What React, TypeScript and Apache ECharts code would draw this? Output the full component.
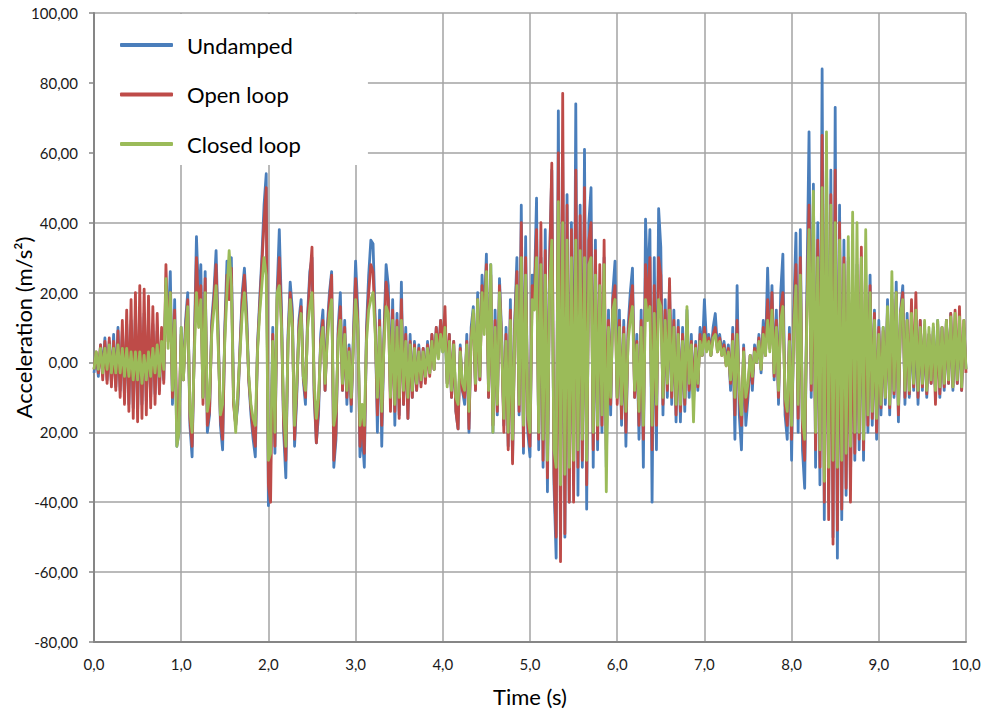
import React, { useEffect, useRef } from "react";
import * as echarts from "echarts";

// sampling step of the recorded signals (s)
const STEP = 0.025;

const xTicks = [0, 1, 2, 3, 4, 5, 6, 7, 8, 9, 10];
const yTicks = [-80, -60, -40, -20, 0, 20, 40, 60, 80, 100];

const seriesNames = ["Undamped", "Open loop", "Closed loop"];
const seriesColors = ["#4A7EBB", "#BE4B48", "#9BBB59"];

// acceleration (m/s²), one row = 0.25 s
const undamped = [
  -3, 2, -4, 5, -2, 7, -5, 6, -6, 8,
  -7, 10, -8, 9, -10, 11, -12, 12, -13, 14,
  -14, 13, -12, 14, -11, 12, -10, 11, -9, 9,
  -8, 8, -5, 22, 10, 26, -12, 18, -24, -20,
  10, -5, 12, 20, -18, -27, 5, 36, 18, 28,
  -10, 26, -20, -15, 12, 20, 32, 8, -18, -25,
  10, 29, 20, 30, -10, -18, -12, 5, 20, 27,
  15, -5, -15, -22, -27, 5, 18, 30, 45, 54,
  -41, -30, 10, -26, 20, 38, 15, -20, -33, 8,
  23, 15, -24, -10, 12, 18, -5, -12, 14, 26,
  30, -10, -23, -15, 8, 15, -8, 10, 20, 26,
  -30, -22, 10, 20, -8, 12, -12, 5, -14, 8,
  29, 15, -27, -20, -30, 10, 25, 35, 34, 12,
  -20, 15, -24, 8, 28, 22, -10, 18, -18, 14,
  -15, 23, -12, 10, -16, 8, -10, 6, -8, 5,
  -6, 4, -5, 6, -3, 8, -2, 10, 2, 12,
  3, 10, -6, 8, -10, 6, -14, -19, 5, -8,
  -12, 8, -20, 10, 16, -8, 20, -5, 25, 12,
  31, -10, 28, -20, 15, -15, 24, 8, -18, 10,
  -24, 18, -28, 12, 30, -15, 45, -26, 36, -20,
  -27, 25, 20, 47, -25, 30, -30, 38, -37, 30,
  55, -35, -56, 72, -45, 60, -50, 48, -40, 40,
  -35, 74, -38, 45, -30, 61, -42, 40, 50, -30,
  35, -25, 22, -20, 30, -30, 15, -15, 20, 29,
  -10, 15, -18, 12, -24, 10, 20, 27, -10, 8,
  -22, 15, -30, 41, 20, 38, -40, 30, -25, 44,
  33, -15, 18, -10, 22, -12, 15, -17, 12, -17,
  10, -14, 15, -10, 8, -12, 6, -8, 10, 2,
  18, 5, 8, 2, 10, 14, 4, 8, 3, 6,
  0, 5, -8, 10, -22, 22, -15, -25, 5, -18,
  -10, 2, -8, 5, 0, 8, -3, 12, 2, 27,
  5, 22, -5, 15, -12, 20, 31, -15, -22, 10,
  -28, 15, 37, -20, 38, -25, -36, 20, 66, -10,
  51, -30, 40, -35, 84, -45, 60, -40, 55, -50,
  73, -56, 45, -45, 35, -38, 30, -35, 25, -28,
  28, -25, 30, -28, 22, -20, 25, -18, 15, -22,
  12, -15, 10, -12, 18, -15, 20, -10, 23, -17,
  15, 22, -12, 14, -10, 12, -8, 10, -12, 12,
  -8, 10, -10, 8, -6, 10, -8, 12, -10, 10,
  -8, 12, -6, 14, -8, 10, -6, 12, -8, 10,
  -2,
];

const openLoop = [
  -2, 3, -3, 5, -5, 6, -6, 7, -7, 6,
  -8, 9, -10, 12, -12, 15, -14, 18, -16, 20,
  -17, 22, -16, 21, -15, 19, -13, 16, -12, 14,
  -9, 10, -6, 28, 6, 20, -10, 15, -18, -15,
  8, -5, 10, 18, -16, -24, 3, 30, 15, 22,
  -12, 24, -18, -14, 10, 18, 28, 6, -16, -22,
  8, 25, 18, 27, -12, -18, -10, 4, 18, 25,
  12, -5, -13, -20, -24, 4, 16, 28, 40, 50,
  -35, -40, 8, -24, 18, 30, 12, -18, -28, 6,
  20, 12, -22, -8, 10, 16, -4, -10, 12, 24,
  33, -8, -23, -12, 6, 12, -8, 8, 18, 25,
  -28, -20, 8, 16, -8, 10, -10, 4, -12, 6,
  24, 12, -24, -16, -26, 8, 20, 28, 26, 10,
  -15, 12, -18, 6, 23, 18, -14, 15, -14, 12,
  -16, 18, -12, 8, -16, 6, -10, 5, -8, 4,
  -7, 4, -6, 5, -4, 8, -2, 10, 2, 12,
  4, 16, -6, 8, -10, 6, -14, -19, 4, -8,
  -10, 6, -19, 8, 14, -8, 18, -5, 22, 10,
  28, -10, 25, -18, 12, -14, 22, 6, -20, 8,
  -25, 15, -29, 10, 26, -14, 40, -24, 30, -18,
  -24, 22, 18, 38, -22, 40, -28, 32, -33, 28,
  57, -32, -50, 60, -57, 77, -49, 45, -40, 38,
  -40, 55, -30, 42, -28, 50, -35, 35, 40, -25,
  32, -22, 28, -18, 35, -25, 12, -12, 18, 22,
  -12, 12, -16, 10, -20, 8, 16, 22, -10, 6,
  -18, 12, -22, 28, 15, 30, -25, 22, -18, 30,
  25, -12, 15, -8, 24, -10, 12, -15, 10, -14,
  8, -12, 12, -8, 6, -10, 5, -7, 8, 2,
  10, 4, 7, 2, 8, 10, 3, 7, 2, 5,
  -1, 4, -6, 8, -15, 12, -10, -18, 4, -14,
  -8, 2, -6, 4, 0, 7, -2, 10, 2, 18,
  4, 20, -4, 12, -10, 15, 20, -12, -18, 8,
  -22, 12, 28, -16, 30, -20, -28, 15, 45, -8,
  40, -25, 35, -30, 65, -40, 50, -45, 48, -52,
  55, -48, 40, -42, 30, -36, 29, -40, 22, -26,
  25, -22, 33, -25, 20, -18, 22, -16, 14, -20,
  10, -13, 9, -10, 15, -13, 18, -9, 20, -15,
  14, 20, -10, 12, -9, 18, -7, 20, -10, 12,
  -7, 10, -9, 8, -6, 9, -12, 11, -9, 10,
  -7, 12, -6, 14, -7, 15, -6, 16, -8, 12,
  -3,
];

const closedLoop = [
  -2, 3, -2, 4, -3, 4, -2, 5, -3, 4,
  -3, 5, -3, 4, -4, 4, -4, 3, -5, 3,
  -5, 3, -6, 2, -5, 3, -4, 4, -3, 5,
  -4, 6, -2, 24, 4, 20, -8, 12, -24, -20,
  10, -5, 8, 16, -14, -20, 2, 20, 10, 18,
  -10, 20, -14, -10, 8, 15, 22, 4, -15, -12,
  6, 20, 32, 22, -10, -20, -8, 3, 14, 20,
  10, -4, -12, -16, -18, 3, 14, 22, 30, 25,
  -28, -26, 6, -20, 20, 22, 10, -14, -24, 5,
  18, 10, -18, -6, 8, 14, -4, -8, 10, 16,
  20, -6, -16, -10, 5, 10, -6, 6, 14, 18,
  -18, -14, 6, 12, -6, 8, -8, 3, -10, 5,
  18, 10, -18, -12, -18, 6, 15, 18, 20, 8,
  -10, 10, -14, 5, 16, 14, -10, 12, -12, 10,
  -10, 12, -8, 6, -10, 5, -8, 4, -6, 3,
  -5, 3, -4, 4, -3, 6, -2, 8, 1, 8,
  3, 10, -7, 6, -8, 5, -10, -12, 3, -6,
  -8, 5, -14, 6, 15, -6, 18, -4, 20, 8,
  26, -8, 28, -20, 10, -12, 20, 5, -16, 6,
  -20, 12, -22, 8, 22, -12, 30, -18, 25, -15,
  -20, 18, 15, 30, -20, 28, -22, 25, -28, 22,
  35, -25, -30, 46, -35, 40, -32, 35, -30, 30,
  -28, 35, -25, 32, -22, 30, -28, 28, 30, -20,
  25, -18, 22, -15, 28, -37, 10, -10, 15, 18,
  -10, 10, -12, 8, -14, 6, 12, 16, -8, 5,
  -14, 10, -18, 18, 12, 16, -18, 14, -12, 18,
  16, -10, 12, -6, 15, -8, 10, -12, 8, -12,
  6, -10, 16, -6, 5, -17, 4, -6, 6, 2,
  8, 3, 6, 2, 7, 8, 3, 6, 2, 4,
  -1, 3, -5, 6, -10, 8, -8, -15, 3, -10,
  -6, 2, -4, 3, 0, 6, -2, 8, 2, 12,
  3, 15, -3, 10, -8, 12, 16, -10, -14, 6,
  -18, 10, 22, -12, 25, -16, -22, 12, 38, -6,
  49, -20, 30, -25, 50, -34, 66, -30, 45, -28,
  40, -30, 35, -28, 28, -26, 36, -24, 43, -20,
  40, -20, 30, -22, 38, -15, 20, -14, 12, -16,
  8, -12, 10, -10, 16, -12, 26, -8, 20, -12,
  14, 18, -8, 12, -8, 14, -6, 15, -8, 10,
  -6, 12, -8, 10, -5, 11, -8, 12, -7, 10,
  -6, 12, -5, 13, -7, 14, -5, 13, -7, 12,
  -2,
];

const seriesValues = [undamped, openLoop, closedLoop];

const FONT = 'Lato, "Noto Sans", sans-serif';

export default function App() {
  const ref = useRef<HTMLDivElement>(null);

  useEffect(() => {
    if (!ref.current) return;
    const chart = echarts.init(ref.current, undefined, { renderer: "svg" });
    const fmtX = (v: number) => v.toFixed(1).replace(".", ",");
    const fmtY = (v: number) =>
      v === -20 ? "20,00" : v.toFixed(2).replace(".", ",");

    chart.setOption({
      animation: false,
      backgroundColor: "#ffffff",
      grid: {
        left: 94,
        right: 17,
        top: 13,
        bottom: 71,
        containLabel: false,
        outerBoundsMode: "none",
      },
      legend: {
        orient: "vertical",
        left: 95,
        top: 14,
        backgroundColor: "#ffffff",
        padding: [19, 67, 9, 25],
        itemWidth: 53,
        itemHeight: 4,
        itemGap: 25.5,
        icon: "roundRect",
        selectedMode: false,
        data: seriesNames,
        textStyle: {
          fontFamily: FONT,
          fontSize: 22,
          color: "#000000",
          lineHeight: 24,
          padding: [0, 0, 0, 9],
        },
      },
      xAxis: {
        type: "value",
        min: xTicks[0],
        max: xTicks[xTicks.length - 1],
        interval: 1,
        name: "Time (s)",
        nameLocation: "middle",
        nameGap: 43,
        nameMoveOverlap: false,
        nameTextStyle: { fontFamily: FONT, fontSize: 22, color: "#000000" },
        axisLine: {
          show: true,
          onZero: false,
          lineStyle: { color: "#868686", width: 2 },
        },
        axisTick: { show: false },
        axisLabel: {
          formatter: fmtX,
          fontFamily: FONT,
          fontSize: 15,
          color: "#1a1a1a",
          margin: 14,
        },
        splitLine: { show: true, lineStyle: { color: "#a3a3a3", width: 1.5 } },
      },
      yAxis: {
        type: "value",
        min: yTicks[0],
        max: yTicks[yTicks.length - 1],
        interval: 20,
        name: "Acceleration (m/s²)",
        nameLocation: "middle",
        nameGap: 59,
        nameMoveOverlap: false,
        nameTextStyle: {
          fontFamily: FONT,
          fontSize: 22,
          color: "#000000",
          lineHeight: 24,
        },
        axisLine: { show: true, lineStyle: { color: "#868686", width: 2 } },
        axisTick: {
          show: true,
          length: 5,
          lineStyle: { color: "#868686", width: 1.5 },
        },
        axisLabel: {
          formatter: fmtY,
          fontFamily: FONT,
          fontSize: 15,
          color: "#1a1a1a",
          margin: 16,
        },
        splitLine: { show: true, lineStyle: { color: "#a3a3a3", width: 1.5 } },
      },
      series: seriesValues.map((vals, k) => ({
        name: seriesNames[k],
        type: "line",
        showSymbol: false,
        symbol: "none",
        color: seriesColors[k],
        lineStyle: { color: seriesColors[k], width: 2.8, join: "round" },
        data: vals.map((v, i) => [Math.round(i * STEP * 1000) / 1000, v]),
        z: 2 + k,
      })),
    });
    return () => chart.dispose();
  }, []);

  return (
    <div
      ref={ref}
      style={{ position: "fixed", left: 0, top: 0, width: 983, height: 713 }}
    />
  );
}
